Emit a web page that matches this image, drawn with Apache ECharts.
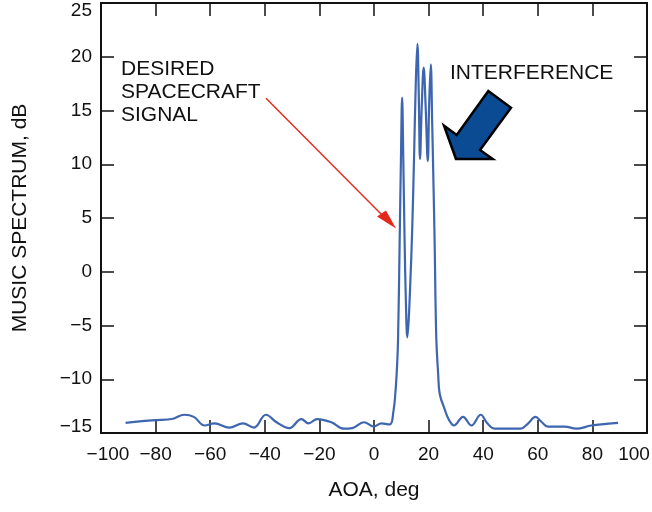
<!DOCTYPE html>
<html>
<head>
<meta charset="utf-8">
<script src="https://cdn.jsdelivr.net/npm/echarts@6/dist/echarts.min.js"></script>
<style>
html,body{margin:0;padding:0;background:#fff;}
#chart{width:652px;height:512px;}
</style>
</head>
<body>
<div id="chart"></div>
<script>
// AOA (deg) sample positions
const angles = [
  -91, -85, -80, -74, -69.5, -66, -62, -58.5, -53, -48, -44, -39.6, -35.7, -31,
  -26.6, -24, -20.8, -15.6, -11, -8, -3.7, 0, 2.7, 5.7, 6.5, 7.0, 7.6, 8.3, 8.8,
  9.4, 9.9, 10.3, 10.7, 11.2, 11.7, 12.2, 12.7, 13.3, 14.0, 14.7, 15.3, 15.9,
  16.4, 16.85, 17.5, 18.2, 18.9, 19.7, 20.2, 20.8, 21.3, 21.8, 22.2, 22.8, 23.5,
  24.1, 25.9, 27.5, 29.3, 32.6, 35.7, 39.1, 41.5, 44.2, 49.1, 53.7, 56.5, 59.1,
  61.5, 63.7, 69.9, 74.1, 79.6, 85, 89.4
];
// MUSIC spectrum (dB) at those angles
const spectrum = [
  -14.05, -13.9, -13.8, -13.7, -13.3, -13.5, -14.3, -14.1, -14.5, -14.1, -14.5, -13.3, -14.0, -14.55,
  -13.7, -14.1, -13.7, -14.0, -14.6, -14.55, -14.0, -14.4, -14.1, -14.2, -14.0, -13.2, -12.0, -9.5, -6.4,
  2.9, 11.0, 16.2, 11.0, 3.0, -3.0, -6.1, -4.5, -1.0, 4.0, 11.0, 17.5, 21.2,
  16.5, 10.5, 15.5, 19.0, 15.5, 10.3, 15.5, 19.3, 14.0, 8.0, 2.9, -6.0, -9.5,
  -11.4, -12.8, -13.8, -14.3, -13.5, -14.3, -13.3, -14.1, -14.6, -14.6, -14.6, -14.1, -13.5,
  -14.0, -14.4, -14.4, -14.6, -14.3, -14.15, -14.05
];
const xRange = [-100, 100];
const yRange = [-15, 25];
const xTitle = 'AOA, deg';
const yTitle = 'MUSIC SPECTRUM, dB';
const noteSignal = 'DESIRED\nSPACECRAFT\nSIGNAL';
const noteInterf = 'INTERFERENCE';

const FONT = '"Liberation Sans", Arial, Helvetica, sans-serif';
const fmt = v => String(v).replace('-', '\u2212');

const chart = echarts.init(document.getElementById('chart'), null, {renderer: 'canvas'});

const baseAxisLine = {show: true, onZero: false, lineStyle: {color: '#111', width: 2}};
const baseTick = {show: true, inside: true, length: 13, lineStyle: {color: '#111', width: 1.5}};

const option = {
  animation: false,
  backgroundColor: '#fff',
  grid: {left: 101, right: 5, top: 3, bottom: 79, outerBoundsMode: 'none', containLabel: false},
  xAxis: [
    {
      type: 'value', min: xRange[0], max: xRange[1], interval: 20, position: 'bottom',
      axisLine: baseAxisLine, axisTick: baseTick, splitLine: {show: false},
      axisLabel: {
        margin: 12, color: '#111', fontSize: 19, fontFamily: FONT,
        formatter: v => {
          if (v === xRange[0]) return '{lo|' + fmt(v) + '}';
          if (v === xRange[1]) return '{hi|' + fmt(v) + '}';
          return fmt(v);
        },
        rich: {
          lo: {padding: [0, 0, 0, 14], fontSize: 19, fontFamily: FONT, color: '#111'},
          hi: {padding: [0, 26, 0, 0], fontSize: 19, fontFamily: FONT, color: '#111'}
        }
      },
      name: xTitle, nameLocation: 'middle', nameGap: 47,
      nameTextStyle: {fontSize: 21, fontFamily: FONT, color: '#111'}
    },
    {
      type: 'value', min: xRange[0], max: xRange[1], interval: 20, position: 'top',
      axisLine: baseAxisLine, axisTick: baseTick, axisLabel: {show: false}, splitLine: {show: false}
    }
  ],
  yAxis: [
    {
      type: 'value', min: yRange[0], max: yRange[1], interval: 5, position: 'left',
      axisLine: baseAxisLine, axisTick: baseTick, splitLine: {show: false},
      axisLabel: {
        margin: 9, color: '#111', fontSize: 19, fontFamily: FONT,
        formatter: v => {
          if (v === yRange[1]) return '{top|' + fmt(v) + '}';
          if (v === yRange[0]) return '{bot|' + fmt(v) + '}';
          return fmt(v);
        },
        rich: {
          top: {padding: [16, 0, 0, 0], fontSize: 19, fontFamily: FONT, color: '#111'},
          bot: {padding: [0, 0, 12, 0], fontSize: 19, fontFamily: FONT, color: '#111'}
        }
      },
      name: yTitle, nameLocation: 'middle', nameGap: 70, nameRotate: 90,
      nameTextStyle: {fontSize: 21, fontFamily: FONT, color: '#111'}
    },
    {
      type: 'value', min: yRange[0], max: yRange[1], interval: 5, position: 'right',
      axisLine: baseAxisLine, axisTick: baseTick, axisLabel: {show: false}, splitLine: {show: false}
    }
  ],
  series: [{
    type: 'line',
    xAxisIndex: 0, yAxisIndex: 0,
    data: angles.map((a, i) => [a, spectrum[i]]),
    showSymbol: false,
    smooth: 0.4,
    lineStyle: {color: '#3E66B0', width: 2.2},
    z: 3
  }],
  graphic: [
    {type: 'text', left: 121, top: 58, z: 10,
     style: {text: noteSignal, font: '21px ' + FONT, fill: '#111', lineHeight: 23}},
    {type: 'text', left: 450, top: 63, z: 10,
     style: {text: noteInterf, font: '21px ' + FONT, fill: '#111'}},
    {type: 'line', z: 10,
     shape: {x1: 266, y1: 98.3, x2: 386, y2: 219},
     style: {stroke: '#E4281C', lineWidth: 1.4}},
    {type: 'polygon', z: 10,
     shape: {points: [[396, 228.5], [377, 216.5], [386, 210.5]]},
     style: {fill: '#E4281C'}},
    {type: 'polygon', z: 10,
     shape: {points: [[456, 159], [444, 125.7], [456.7, 135], [488.3, 91], [511, 107.7], [480, 150], [492.7, 159]]},
     style: {fill: '#0A4B93', stroke: '#000', lineWidth: 2.5, lineJoin: 'miter'}}
  ]
};
chart.setOption(option);
</script>
</body>
</html>
